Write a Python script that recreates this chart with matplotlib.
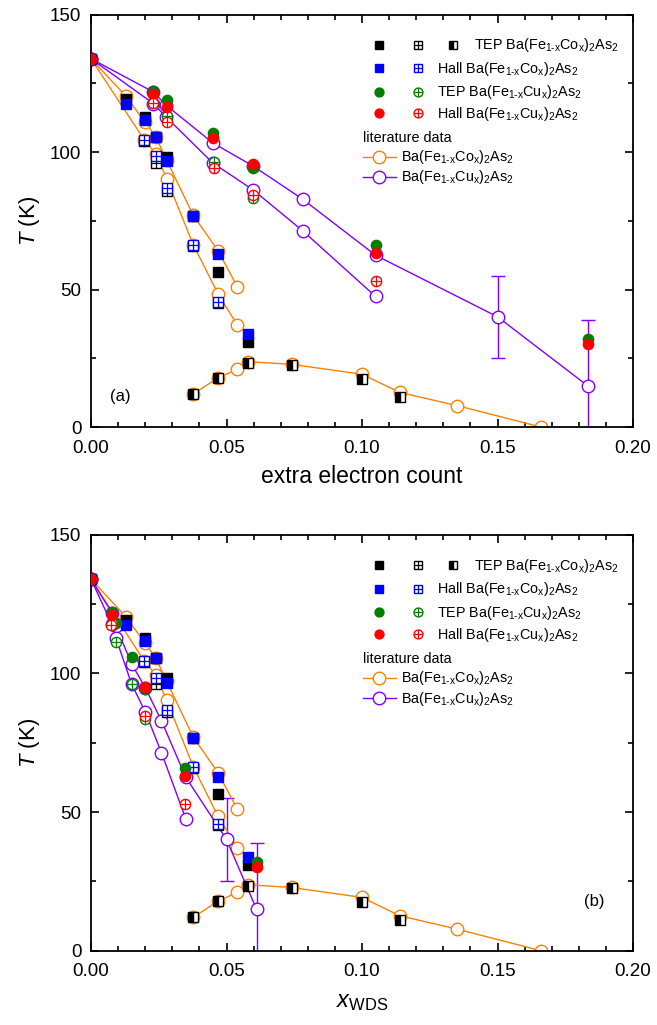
import matplotlib
matplotlib.use('Agg')
import matplotlib.pyplot as plt
from matplotlib.ticker import MultipleLocator, FormatStrFormatter

plt.rcParams['font.family'] = ['Liberation Sans', 'DejaVu Sans']
plt.rcParams['mathtext.fontset'] = 'custom'
plt.rcParams['mathtext.rm'] = 'Liberation Sans'
plt.rcParams['mathtext.it'] = 'Liberation Sans:italic'
plt.rcParams['mathtext.bf'] = 'Liberation Sans:bold'
plt.rcParams['mathtext.default'] = 'regular'

ORANGE = '#FF8000'
PURPLE = '#8000FF'
BLUE = '#0000FF'
GREEN = '#007F00'
RED = '#FF0000'

# ---------------- data: Co (same x for both panels) ----------------
co_lit_ts_x = [0, 0.0128, 0.0199, 0.0239, 0.0279, 0.0377, 0.0469, 0.0540]
co_lit_ts_T = [134, 120.5, 111.0, 105.6, 97.1, 77.1, 64.1, 51.0]
co_lit_tn_x = [0, 0.0197, 0.0239, 0.0279, 0.0377, 0.0469, 0.0540]
co_lit_tn_T = [134, 104.4, 99.5, 90.4, 66.4, 48.4, 37.1]
co_lit_sc_x = [0.0377, 0.0469, 0.0540, 0.0578, 0.0740, 0.1000, 0.1139, 0.1350, 0.1660]
co_lit_sc_T = [12.0, 17.9, 21.0, 23.8, 22.8, 19.2, 12.6, 7.8, 0.0]

co_tep_x = [0, 0.0128, 0.0199, 0.0239, 0.0279, 0.0377, 0.0469, 0.0578]
co_tep_T = [134, 119.3, 112.8, 105.6, 98.3, 76.7, 56.5, 31.0]
co_hall_x = [0, 0.0128, 0.0199, 0.0239, 0.0279, 0.0377, 0.0469, 0.0578]
co_hall_T = [134, 117.5, 111.6, 105.6, 96.7, 76.7, 62.8, 33.7]
co_tep_tn_x = [0.0197, 0.0239, 0.0279, 0.0377, 0.0469]
co_tep_tn_T = [104.0, 96.2, 86.0, 66.0, 45.2]
co_hall_tn_x = [0.0197, 0.0239, 0.0279, 0.0377, 0.0469]
co_hall_tn_T = [104.4, 98.5, 86.8, 66.4, 45.6]
co_tep_sc_x = [0.0377, 0.0469, 0.0578, 0.0740, 0.1000, 0.1139]
co_tep_sc_T = [12.0, 17.8, 23.3, 22.6, 17.5, 11.0]

# ---------------- data: Cu, panel (a) extra electron count ----------------
cu_lit_ts_ee = [0, 0.0230, 0.0277, 0.0449, 0.0599, 0.0781, 0.1050, 0.1500, 0.1834]
cu_lit_ts_T = [134, 121.9, 117.1, 103.4, 94.9, 82.9, 62.5, 40.1, 14.9]
cu_lit_tn_ee = [0, 0.0230, 0.0277, 0.0449, 0.0599, 0.0781, 0.1050]
cu_lit_tn_T = [134, 117.7, 112.8, 96.1, 86.2, 71.4, 47.5]
cu_err_ee = [0.1500, 0.1834]
cu_err_T = [40.1, 14.9]
cu_err_dT = [15.0, 24.0]

cu_tep_ee = [0, 0.0230, 0.0279, 0.0451, 0.0599, 0.1050, 0.1834]
cu_tep_T = [134, 122.2, 118.9, 106.8, 94.1, 66.2, 32.0]
cu_hall_ee = [0, 0.0230, 0.0279, 0.0451, 0.0599, 0.1050, 0.1834]
cu_hall_T = [134, 121.3, 116.5, 105.3, 95.6, 63.2, 30.1]
cu_tep_tn_ee = [0.0230, 0.0279, 0.0453, 0.0599]
cu_tep_tn_T = [118.0, 113.0, 96.5, 83.2]
cu_hall_tn_ee = [0.0230, 0.0279, 0.0453, 0.0599, 0.1050]
cu_hall_tn_T = [118.0, 111.0, 94.4, 84.4, 53.1]

# ---------------- data: Cu, panel (b) x_WDS ----------------
cu_lit_ts_wds = [0, 0.0077, 0.0092, 0.0150, 0.0200, 0.0260, 0.0350, 0.0500, 0.0611]
cu_lit_tn_wds = [0, 0.0077, 0.0092, 0.0150, 0.0200, 0.0260, 0.0350]
cu_err_wds = [0.0500, 0.0611]

cu_tep_wds = [0, 0.0076, 0.0091, 0.0150, 0.0199, 0.0347, 0.0611]
cu_tep_wds_T = [134, 122.3, 118.0, 106.0, 94.2, 66.0, 32.0]
cu_hall_wds = [0, 0.0076, 0.0199, 0.0347, 0.0611]
cu_hall_wds_T = [134, 121.1, 95.0, 63.0, 30.0]
cu_tep_tn_wds = [0.0076, 0.0091, 0.0150, 0.0199]
cu_tep_tn_wds_T = [118.0, 111.2, 96.1, 83.5]
cu_hall_tn_wds = [0.0074, 0.0199, 0.0347]
cu_hall_tn_wds_T = [117.5, 84.6, 52.9]

CO_NAME = r'Ba(Fe$_{1\text{-}x}$Co$_x$)$_2$As$_2$'
CU_NAME = r'Ba(Fe$_{1\text{-}x}$Cu$_x$)$_2$As$_2$'

MS_LIT = 9.0
MS_SQ = 6.8
MS_CI = 7.4


def hatched_square(ax, x, y, color, z, ms=MS_SQ, **kw):
    ax.plot(x, y, ls='none', marker='s', ms=ms, mfc='white', mec=color, mew=1.0, zorder=z, **kw)
    ax.plot(x, y, ls='none', marker='+', ms=ms, mec=color, mew=0.9, zorder=z + 0.01, **kw)


def crossed_circle(ax, x, y, color, z, ms=MS_CI, **kw):
    ax.plot(x, y, ls='none', marker='o', ms=ms, mfc='white', mec=color, mew=1.0, zorder=z, **kw)
    ax.plot(x, y, ls='none', marker='+', ms=ms, mec=color, mew=0.9, zorder=z + 0.01, **kw)


def half_square(ax, x, y, z, ms=MS_SQ, **kw):
    ax.plot(x, y, ls='none', marker='s', ms=ms, fillstyle='left', mfc='black',
            markerfacecoloralt='white', mec='black', mew=1.0, zorder=z, **kw)


def draw_panel(ax, cu_ts_x, cu_tn_x, err_x, tep_x, tep_T, hall_x, hall_T,
               tep_tn_x, tep_tn_T, hall_tn_x, hall_tn_T):
    # literature
    litkw = dict(lw=1.0, marker='o', ms=MS_LIT, mfc='white', mew=1.0, zorder=2)
    ax.plot(co_lit_ts_x, co_lit_ts_T, color=ORANGE, mec=ORANGE, **litkw)
    ax.plot(co_lit_tn_x, co_lit_tn_T, color=ORANGE, mec=ORANGE, **litkw)
    ax.plot(co_lit_sc_x, co_lit_sc_T, color=ORANGE, mec=ORANGE, **litkw)
    ax.errorbar(err_x, cu_err_T, yerr=cu_err_dT, fmt='none', ecolor=PURPLE,
                elinewidth=1.0, capsize=5, capthick=1.0, zorder=1.5)
    ax.plot(cu_ts_x, cu_lit_ts_T, color=PURPLE, mec=PURPLE, **litkw)
    ax.plot(cu_tn_x, cu_lit_tn_T, color=PURPLE, mec=PURPLE, **litkw)
    # Co experiments
    ax.plot(co_tep_x, co_tep_T, ls='none', marker='s', ms=MS_SQ, color='black', zorder=3)
    ax.plot(co_hall_x, co_hall_T, ls='none', marker='s', ms=MS_SQ, color=BLUE, zorder=3.1)
    hatched_square(ax, co_tep_tn_x, co_tep_tn_T, 'black', 3.2)
    hatched_square(ax, co_hall_tn_x, co_hall_tn_T, BLUE, 3.3)
    half_square(ax, co_tep_sc_x, co_tep_sc_T, 3.4)
    # Cu experiments
    ax.plot(tep_x, tep_T, ls='none', marker='o', ms=MS_CI, color=GREEN, zorder=3.5)
    crossed_circle(ax, tep_tn_x, tep_tn_T, GREEN, 3.6)
    ax.plot(hall_x, hall_T, ls='none', marker='o', ms=MS_CI, color=RED, zorder=3.7)
    crossed_circle(ax, hall_tn_x, hall_tn_T, RED, 3.8)

    ax.set_xlim(0, 0.20)
    ax.set_ylim(0, 150)
    ax.xaxis.set_major_locator(MultipleLocator(0.05))
    ax.xaxis.set_minor_locator(MultipleLocator(0.01))
    ax.yaxis.set_major_locator(MultipleLocator(50))
    ax.yaxis.set_minor_locator(MultipleLocator(25))
    ax.xaxis.set_major_formatter(FormatStrFormatter('%.2f'))
    ax.tick_params(which='both', direction='in', top=True, right=True, width=1.2,
                   labelsize=13.5)
    ax.tick_params(axis='x', which='both', pad=9)
    ax.tick_params(axis='y', which='both', pad=7)
    ax.tick_params(which='major', length=6)
    ax.tick_params(which='minor', length=3.5)
    for s in ax.spines.values():
        s.set_linewidth(1.3)
    ax.set_ylabel(r'$\mathit{T}$ (K)', fontsize=16, labelpad=6)

    # legend (drawn by hand)
    tr = ax.transAxes
    rows = [0.9265, 0.870, 0.8133, 0.7609]
    x1, x2, x3 = 0.532, 0.603, 0.668
    lk = dict(transform=tr, clip_on=False, ls='none')
    ax.plot([x1], [rows[0]], marker='s', ms=5.8, color='black', **lk)
    hatched_square(ax, [x2], [rows[0]], 'black', 5, ms=5.8, transform=tr, clip_on=False)
    half_square(ax, [x3], [rows[0]], 5, ms=5.8, transform=tr, clip_on=False)
    ax.plot([x1], [rows[1]], marker='s', ms=5.8, color=BLUE, **lk)
    hatched_square(ax, [x2], [rows[1]], BLUE, 5, ms=5.8, transform=tr, clip_on=False)
    ax.plot([x1], [rows[2]], marker='o', ms=6.4, color=GREEN, **lk)
    crossed_circle(ax, [x2], [rows[2]], GREEN, 5, ms=6.4, transform=tr, clip_on=False)
    ax.plot([x1], [rows[3]], marker='o', ms=6.4, color=RED, **lk)
    crossed_circle(ax, [x2], [rows[3]], RED, 5, ms=6.4, transform=tr, clip_on=False)
    fs = 10.4
    dy = 0.0105
    ax.text(0.7066, rows[0] - dy, 'TEP ' + CO_NAME, transform=tr, fontsize=fs, va='baseline')
    ax.text(0.639, rows[1] - dy, 'Hall ' + CO_NAME, transform=tr, fontsize=fs, va='baseline')
    ax.text(0.639, rows[2] - dy, 'TEP ' + CU_NAME, transform=tr, fontsize=fs, va='baseline')
    ax.text(0.639, rows[3] - dy, 'Hall ' + CU_NAME, transform=tr, fontsize=fs, va='baseline')
    ax.text(0.5024, 0.7026 - dy, 'literature data', transform=tr, fontsize=fs, va='baseline')
    for yy, col, name in [(0.6556, ORANGE, CO_NAME), (0.6071, PURPLE, CU_NAME)]:
        ax.plot([0.5024, 0.5622], [yy, yy], color=col, lw=1.0, transform=tr, clip_on=False)
        ax.plot([0.532], [yy], marker='o', ms=MS_LIT, mfc='white', mec=col, mew=1.0,
                transform=tr, clip_on=False)
        ax.text(0.5714, yy - dy, name, transform=tr, fontsize=fs, va='baseline')


fig = plt.figure(figsize=(6.57, 10.25), dpi=100)
ax1 = fig.add_axes([0.1385, 0.5834, 0.825, 0.4022])
ax2 = fig.add_axes([0.1385, 0.0725, 0.825, 0.4058])

draw_panel(ax1, cu_lit_ts_ee, cu_lit_tn_ee, cu_err_ee, cu_tep_ee, cu_tep_T, cu_hall_ee, cu_hall_T,
           cu_tep_tn_ee, cu_tep_tn_T, cu_hall_tn_ee, cu_hall_tn_T)
draw_panel(ax2, cu_lit_ts_wds, cu_lit_tn_wds, cu_err_wds, cu_tep_wds, cu_tep_wds_T,
           cu_hall_wds, cu_hall_wds_T, cu_tep_tn_wds, cu_tep_tn_wds_T,
           cu_hall_tn_wds, cu_hall_tn_wds_T)

ax1.set_xlabel('extra electron count', fontsize=16.5, labelpad=6)
ax2.set_xlabel(r'$\mathit{x}_{\mathrm{WDS}}$', fontsize=17, labelpad=8)
ax1.text(0.055, 0.075, '(a)', transform=ax1.transAxes, fontsize=12, ha='center', va='center')
ax2.text(0.928, 0.119, '(b)', transform=ax2.transAxes, fontsize=12, ha='center', va='center')

fig.savefig('out.png', dpi=100)
